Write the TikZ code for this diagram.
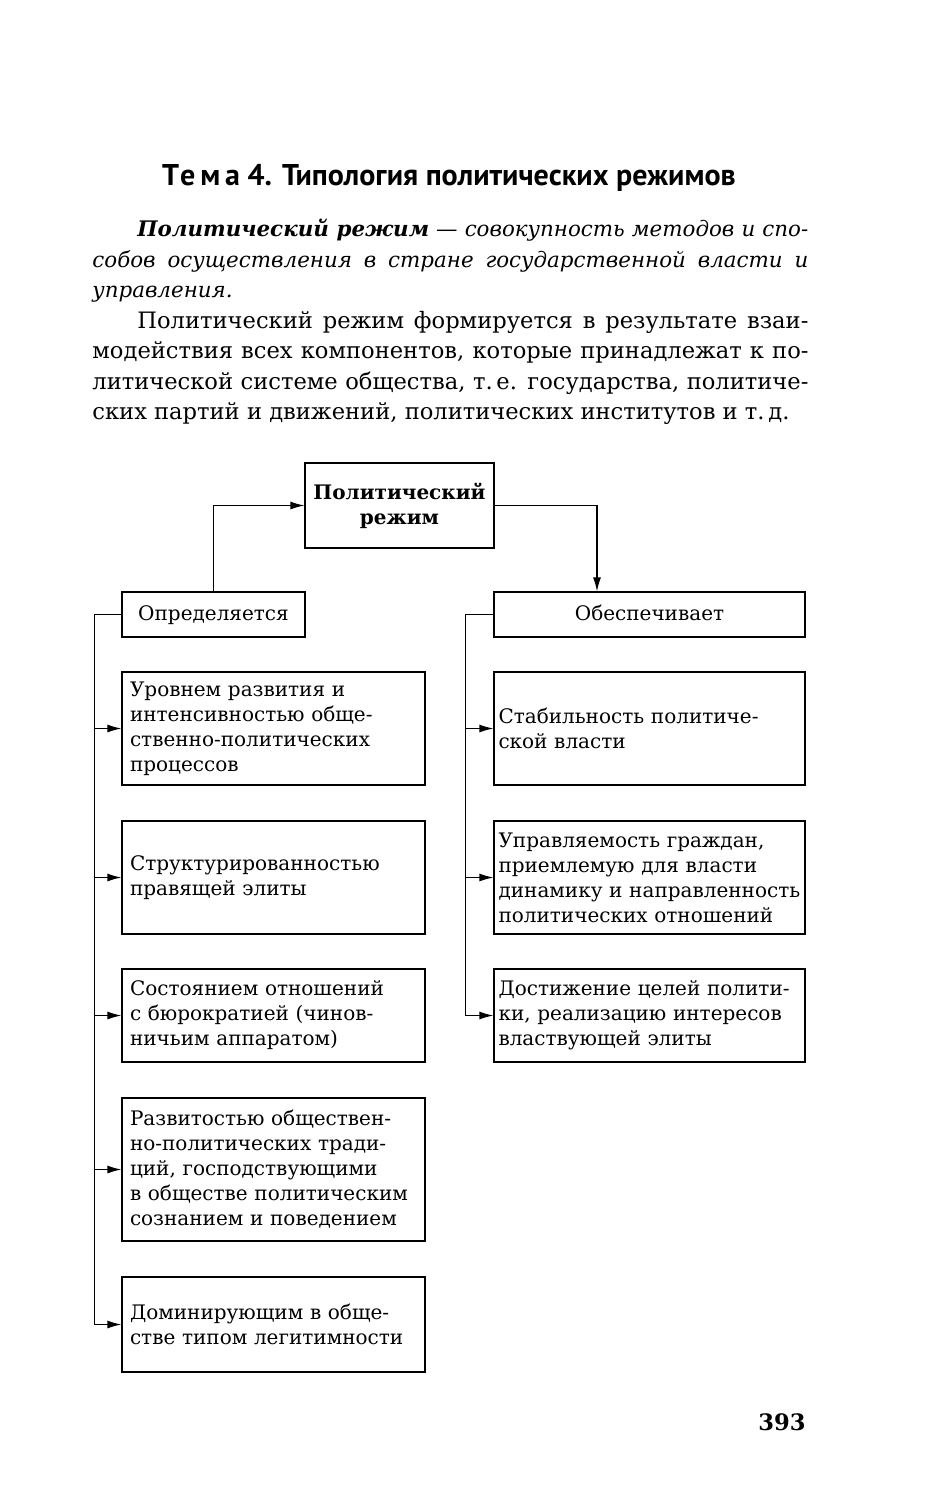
\documentclass[tikz,border=0pt]{standalone}
\usepackage{fontspec}
\setmainfont{DejaVu Serif}
\newfontfamily\hdrfont{PT Sans}
\usetikzlibrary{positioning,arrows.meta,calc}

\begin{document}
\begin{tikzpicture}[
        x=0.5pt,
        y=-0.5pt,
        >={Latex[length=7pt,width=4pt]},
        box/.style={draw, line width=0.6pt, inner xsep=4pt, inner ysep=2pt, align=left, font=\fontsize{10}{12.5}\selectfont},
        lbox/.style={box, text width=143.5pt},
        rbox/.style={box, inner xsep=2.25pt, text width=151pt},
        hbox/.style={box, align=center, text height=8pt, text depth=2.5pt, minimum height=22.5pt},
        con/.style={->, line width=0.6pt},
        bus/.style={line width=0.6pt}
    ]
        \useasboundingbox (0,0) rectangle (930,1500);

        % Заголовок и текст над схемой.
        \node[anchor=base, font=\hdrfont\bfseries\fontsize{15}{17}\selectfont, inner sep=0pt] (ttl) at (449,185)
            {{\addfontfeature{LetterSpace=16}Тема} 4. Типология политических режимов};
        \node[anchor=north west, inner sep=0pt, text width=358pt, align=justify, font=\fontsize{11.3}{15.25}\selectfont] (txt) at (92,219)
            {\hspace*{22.5pt}{\fontsize{10.7}{15.25}\selectfont\textbf{\textit{Политический режим}} --- \textit{совокупность методов и спо-\linebreak
            собов осуществления в стране государственной власти и\linebreak управления.}}\par
            \hspace*{22.5pt}Политический режим формируется в результате взаи-\linebreak
            модействия всех компонентов, которые принадлежат к по-\linebreak
            литической системе общества, т.\,е. государства, политиче-\linebreak
            ских партий и движений, политических институтов и т.\,д.};

        % Верхний уровень схемы.
        \node[box, align=center, text width=86.5pt, minimum height=42.5pt, font=\bfseries\fontsize{10}{12.5}\selectfont] (rez) at (399.5,505.5)
            {Политический\\режим};
        \node[hbox, minimum width=91.5pt] (opr) at (213.5,614.5) {Определяется};
        \node[hbox, minimum width=155.5pt] (obe) at (649.5,614.5) {Обеспечивает};

        \draw[con] (opr.north) |- (rez.west);
        \draw[con] (rez.east) -| ([xshift=-26.25pt]obe.north);

        % Левая колонка: чем определяется режим.
        \node[lbox, minimum height=56.5pt] (l1) at (273.5,728.5)
            {Уровнем развития и\\интенсивностью обще-\\ственно-политических\\процессов};
        \node[lbox, minimum height=56.5pt] (l2) at (273.5,877.5)
            {Структурированностью\\правящей элиты};
        \node[lbox, minimum height=46.5pt] (l3) at (273.5,1015.5)
            {Состоянием отношений\\с бюрократией (чинов-\\ничьим аппаратом)};
        \node[lbox, minimum height=71.5pt] (l4) at (273.5,1169.5)
            {Развитостью обществен-\\но-политических тради-\\ций, господствующими\\в обществе политическим\\сознанием и поведением};
        \node[lbox, minimum height=47.5pt] (l5) at (273.5,1324.5)
            {Доминирующим в обще-\\стве типом легитимности};

        \draw[bus] (opr.west) -- ++(-27,0) coordinate (lbus);
        \foreach \n in {l1,l2,l3,l4,l5}
            \draw[con] (lbus) |- (\n.west);

        % Правая колонка: что обеспечивает режим.
        \node[rbox, minimum height=56.5pt] (r1) at (649.5,728.5)
            {Стабильность политиче-\\ской власти};
        \node[rbox, minimum height=56.5pt] (r2) at (649.5,877.5)
            {Управляемость граждан,\\приемлемую для власти\\\mbox{динамику и направленность}\\политических отношений};
        \node[rbox, minimum height=46.5pt] (r3) at (649.5,1015.5)
            {Достижение целей полити-\\ки, реализацию интересов\\властвующей элиты};

        \draw[bus] (obe.west) -- ++(-28,0) coordinate (rbus);
        \foreach \n in {r1,r2,r3}
            \draw[con] (rbus) |- (\n.west);

        \node[anchor=base east, inner sep=0pt, font=\bfseries\fontsize{11.3}{13}\selectfont] (pg) at (806,1430) {393};
    \end{tikzpicture}
\end{document}
